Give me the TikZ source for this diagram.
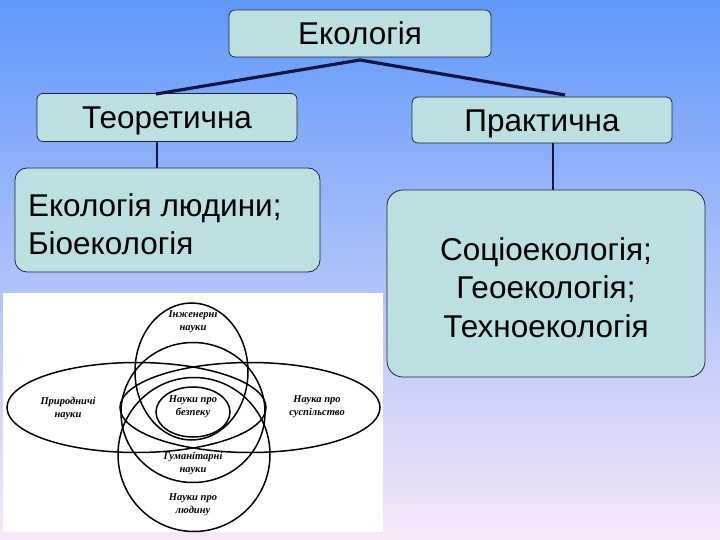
\documentclass[tikz,border=0pt]{standalone}
\usepackage{fontspec}
\setmainfont{Liberation Sans}
\newfontfamily\vennfont{Liberation Serif}
\definecolor{bgtop}{RGB}{96,152,250}
\definecolor{bgmid}{RGB}{148,190,245}
\definecolor{bgbot}{RGB}{248,232,248}
\definecolor{boxfill}{RGB}{188,224,226}
\definecolor{boxline}{RGB}{35,35,55}
\definecolor{linkcol}{RGB}{20,20,70}
\tikzset{
  boxnode/.style={draw=boxline, line width=0.8pt, fill=boxfill, rounded corners=6pt,
    inner sep=0pt, font=\fontsize{31.5}{38.5}\selectfont},
  bigbox/.style={boxnode, rounded corners=16pt},
  toplink/.style={draw=linkcol, line width=3.2pt},
  vlink/.style={draw=linkcol, line width=1.4pt},
  venn/.style={draw=black, line width=1.5pt},
  vlabel/.style={font=\vennfont\bfseries\itshape\fontsize{10.5}{13}\selectfont, align=center, inner sep=0pt}
}
\begin{document}
\begin{tikzpicture}[x=1pt,y=-1pt]
\useasboundingbox (0,0) rectangle (720,540);
\shade[top color=bgtop, middle color=bgmid, bottom color=bgbot] (0,0) rectangle (720,540);

% tree boxes
\node[boxnode, minimum width=262pt, minimum height=47pt] (eko) at (360,33.5) {Екологія};
\node[boxnode, minimum width=260pt, minimum height=48pt, text depth=0pt, text height=23pt] (teor) at (167,117.5) {Теоретична};
\node[boxnode, minimum width=260pt, minimum height=46pt, text depth=0pt, text height=23pt] (prak) at (542,120) {Практична};
\node[boxnode, rounded corners=12pt, minimum width=305pt, minimum height=104pt] (ekol) at (167.5,220)
      {\makebox[279pt][l]{\raisebox{-14pt}[0pt][0pt]{\begin{tabular}{@{}l@{}}Екологія людини;\\Біоекологія\end{tabular}}}};
\node[bigbox, minimum width=318pt, minimum height=187pt] (prakt) at (546,283.5)
      {\raisebox{-14pt}[0pt][0pt]{\begin{tabular}{@{}c@{}}Соціоекологія;\\Геоекологія;\\Техноекологія\end{tabular}}};

% connectors
\coordinate (apex) at (360,60);
\coordinate (tl) at (156,94);
\coordinate (tr) at (565,95);
\draw[toplink] (tl) -- (apex) -- (tr);
\draw[vlink] (teor.south -| 157,0) -- (ekol.north -| 157,0);
\draw[vlink] (prak.south -| 553,0) -- (prakt.north -| 553,0);

% Venn picture
\fill[white] (3,293) rectangle (383,532);
\draw[venn] (191.5,371.5) ellipse [x radius=56.5pt, y radius=68.5pt];
\draw[venn] (193,412.5) ellipse [x radius=72pt, y radius=70pt];
\draw[venn] (194,454.5) ellipse [x radius=76pt, y radius=77pt];
\draw[venn] (136.5,407.5) ellipse [x radius=129.5pt, y radius=45pt];
\draw[venn] (250,407.5) ellipse [x radius=130pt, y radius=45pt];
\draw[venn] (193,412) ellipse [x radius=37pt, y radius=25pt];

\node[vlabel] (ing) at (193,321) {Інженерні\\науки};
\node[vlabel] (prir) at (68,408) {Природничі\\науки};
\node[vlabel] (bez) at (193,407) {Науки про\\безпеку};
\node[vlabel] (susp) at (317,407) {Наука про\\суспільство};
\node[vlabel] (hum) at (193,463) {Гуманітарні\\науки};
\node[vlabel] (lyud) at (193,505) {Науки про\\людину};
\end{tikzpicture}
\end{document}
